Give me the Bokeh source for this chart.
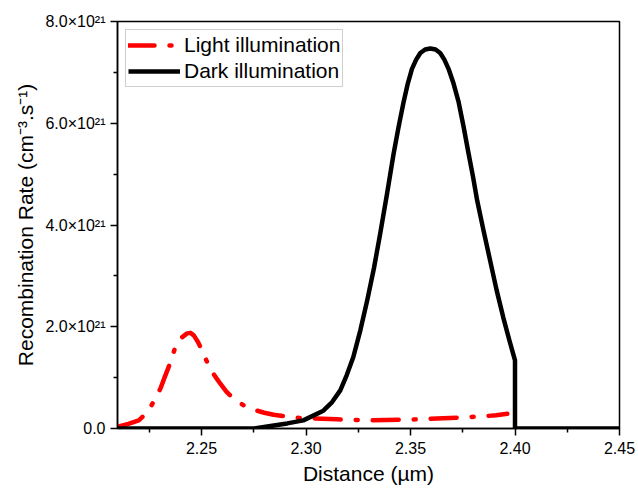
from bokeh.plotting import figure
from bokeh.models import Range1d, CustomJSTickFormatter, FixedTicker, Legend, LegendItem
from bokeh.embed import file_html
from bokeh.resources import INLINE

# ---- data ----
light_x = [2.2104, 2.2150, 2.2200, 2.2228, 2.2256, 2.2280, 2.2304, 2.2323, 2.2343, 2.2359,
           2.2375, 2.2403, 2.2431, 2.2447, 2.2463, 2.2483, 2.2503, 2.2522, 2.2542, 2.2566,
           2.2590, 2.2620, 2.2654, 2.2700, 2.2750, 2.2800, 2.2845, 2.2957, 2.3035, 2.3150,
           2.3308, 2.3532, 2.3657, 2.3760, 2.3848, 2.3910, 2.3963]
light_y = [0.04e21, 0.09e21, 0.16e21, 0.27e21, 0.42e21, 0.60e21, 0.79e21, 1.00e21, 1.21e21, 1.41e21,
           1.60e21, 1.78e21, 1.87e21, 1.88e21, 1.83e21, 1.70e21, 1.53e21, 1.35e21, 1.17e21, 1.02e21,
           0.88e21, 0.72e21, 0.58e21, 0.46e21, 0.37e21, 0.31e21, 0.27e21, 0.21e21, 0.20e21, 0.18e21,
           0.16e21, 0.18e21, 0.20e21, 0.22e21, 0.24e21, 0.26e21, 0.29e21]

dark_x = [2.2098, 2.2750, 2.2830, 2.2910, 2.2987, 2.3083, 2.3125, 2.3164, 2.3195, 2.3226,
          2.3260, 2.3293, 2.3325, 2.3355, 2.3388, 2.3419, 2.3443, 2.3467, 2.3487, 2.3507,
          2.3527, 2.3547, 2.3570, 2.3595, 2.3620, 2.3642, 2.3662, 2.3682, 2.3706, 2.3730,
          2.3754, 2.3778, 2.3799, 2.3819, 2.3850, 2.3881, 2.3912, 2.3944, 2.3972, 2.4000,
          2.4000, 2.4500]
dark_y = [0.0, 0.0, 0.05e21, 0.10e21, 0.16e21, 0.35e21, 0.52e21, 0.75e21, 1.05e21, 1.40e21,
          1.93e21, 2.52e21, 3.15e21, 3.83e21, 4.62e21, 5.40e21, 5.93e21, 6.42e21, 6.78e21, 7.07e21,
          7.25e21, 7.38e21, 7.45e21, 7.47e21, 7.45e21, 7.38e21, 7.25e21, 7.07e21, 6.78e21, 6.42e21,
          5.93e21, 5.40e21, 4.95e21, 4.48e21, 3.88e21, 3.30e21, 2.72e21, 2.18e21, 1.75e21, 1.34e21,
          0.0, 0.0]

x_ticks = [2.25, 2.30, 2.35, 2.40, 2.45]
x_minor = [2.225, 2.275, 2.325, 2.375, 2.425]
y_ticks = [0, 2e21, 4e21, 6e21, 8e21]
y_minor = [1e21, 3e21, 5e21, 7e21]

FONT = "Liberation Sans"

p = figure(width=638, height=492, output_backend="svg", toolbar_location=None,
           x_range=Range1d(2.2098, 2.45), y_range=Range1d(0, 8e21),
           min_border_left=117, min_border_right=19, min_border_top=21, min_border_bottom=64)

p.xgrid.visible = False
p.ygrid.visible = False
p.outline_line_color = "black"
p.outline_line_width = 1.5
p.background_fill_color = "white"
p.border_fill_color = "white"

r_light = p.line(light_x, light_y, line_color="#ff0000", line_width=4.5,
                 line_dash="26 15 2 15", line_cap="round", line_join="round")
r_dark = p.line(dark_x, dark_y, line_color="black", line_width=4.5, line_join="round")

# axes
p.xaxis.ticker = FixedTicker(ticks=x_ticks, minor_ticks=x_minor)
p.yaxis.ticker = FixedTicker(ticks=y_ticks, minor_ticks=y_minor)
p.xaxis.formatter = CustomJSTickFormatter(code="return tick.toFixed(2);")
p.yaxis.formatter = CustomJSTickFormatter(
    code="if (Math.abs(tick) < 1) { return '0.0'; } return (tick/1e21).toFixed(1) + '\u00d710\u00b2\u00b9';")

for ax in (p.xaxis[0], p.yaxis[0]):
    ax.axis_line_color = "black"
    ax.axis_line_width = 1.5
    ax.major_tick_line_color = "black"
    ax.major_tick_line_width = 1.5
    ax.minor_tick_line_color = "black"
    ax.minor_tick_line_width = 1.5
    ax.major_tick_out = 7
    ax.major_tick_in = 0
    ax.minor_tick_out = 4
    ax.minor_tick_in = 0
    ax.major_label_text_font = FONT
    ax.major_label_text_font_size = "16px"
    ax.major_label_text_color = "black"
    ax.axis_label_text_font = FONT
    ax.axis_label_text_font_size = "21px"
    ax.axis_label_text_font_style = "normal"
    ax.axis_label_text_color = "black"

p.xaxis.axis_label = "Distance (\u00b5m)"
p.yaxis.axis_label = "Recombination Rate (cm\u207b\u00b3.s\u207b\u00b9)"
p.xaxis.major_label_standoff = 6
p.xaxis.axis_label_standoff = 5
p.yaxis.major_label_standoff = 5
p.yaxis.axis_label_standoff = 5

legend = Legend(items=[LegendItem(label="Light illumination", renderers=[r_light]),
                       LegendItem(label="Dark illumination", renderers=[r_dark])],
                location="top_left")
legend.margin = 8
legend.padding = 2
legend.spacing = 0
legend.glyph_width = 52
legend.glyph_height = 26
legend.label_height = 26
legend.label_standoff = 4
legend.label_text_font = FONT
legend.label_text_font_size = "21px"
legend.label_text_color = "black"
legend.border_line_color = "#a0a0a0"
legend.border_line_width = 1
legend.background_fill_color = "white"
legend.background_fill_alpha = 1.0
p.add_layout(legend)

open("out.html", "w").write(file_html(p, INLINE))
